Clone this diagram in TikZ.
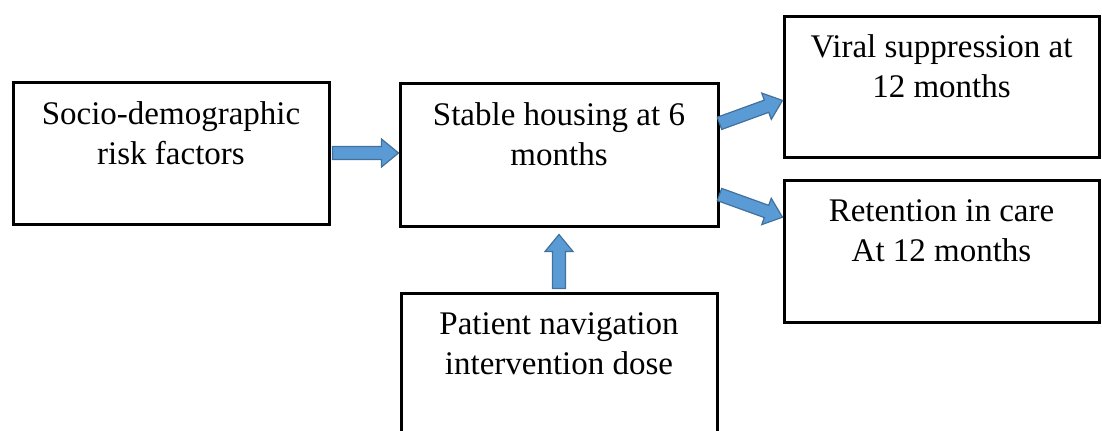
\documentclass[tikz,border=0pt]{standalone}
\usepackage{fontspec}
\setmainfont{Liberation Serif}
\usetikzlibrary{calc}
\definecolor{arrowfill}{HTML}{5B9BD5}
\definecolor{arrowline}{HTML}{41719C}
\tikzset{
	x=0.5pt, y=-0.5pt, % one unit is one pixel of the scan, y grows downwards
	box/.style={draw, line width=1.5pt, align=center, minimum height=71pt, font=\fontsize{16.5}{20}\selectfont}, % sets the properties for each box
	fatarrow/.style={fill=arrowfill, draw=arrowline, line width=0.6pt, line join=miter}, % the blue block arrows
}
% block arrow from #1 to #2
\newcommand{\blockarrow}[2]{%
	\draw[fatarrow] let \p1=(#1), \p2=(#2),
		\n1={atan2(\y2-\y1,\x2-\x1)}, \n2={veclen(\x2-\x1,\y2-\y1)-8.5pt}, \n3={veclen(\x2-\x1,\y2-\y1)}
		in [shift={(\p1)}, rotate=\n1]
		(0pt,-3.25pt) -- (\n2,-3.25pt) -- (\n2,-7pt) -- (\n3,0pt)
		-- (\n2,7pt) -- (\n2,3.25pt) -- (0pt,3.25pt) -- cycle;}

\begin{document}
\begin{tikzpicture}
	\useasboundingbox (0,0) rectangle (1102,430);
	\clip (0,0) rectangle (1102,430);
	\node[box, minimum width=158pt] (socio) at (171,153) {Socio-demographic\\risk factors\\\mbox{}};
	\node[box, minimum width=159pt, minimum height=71.5pt] (hous) at (559,154.5) {Stable housing at 6\\months\\\mbox{}};
	\node[box, minimum width=157.5pt, minimum height=70.5pt] (viral) at (941.5,86.5) {Viral suppression at\\12 months\\\mbox{}};
	\node[box, minimum width=157.5pt] (ret) at (941.5,251) {Retention in care\\At 12 months\\\mbox{}};
	\node[box, minimum width=158pt] (dose) at (559,364) {Patient navigation\\intervention dose\\\mbox{}};

	\blockarrow{[xshift=1pt]socio.east}{socio.east -| hous.west}
	\blockarrow{[yshift=1.5pt]dose.north}{[yshift=-3.5pt]hous.south}
	\blockarrow{hous.11}{viral.185}
	\blockarrow{hous.-14}{ret.168}
\end{tikzpicture}
\end{document}
